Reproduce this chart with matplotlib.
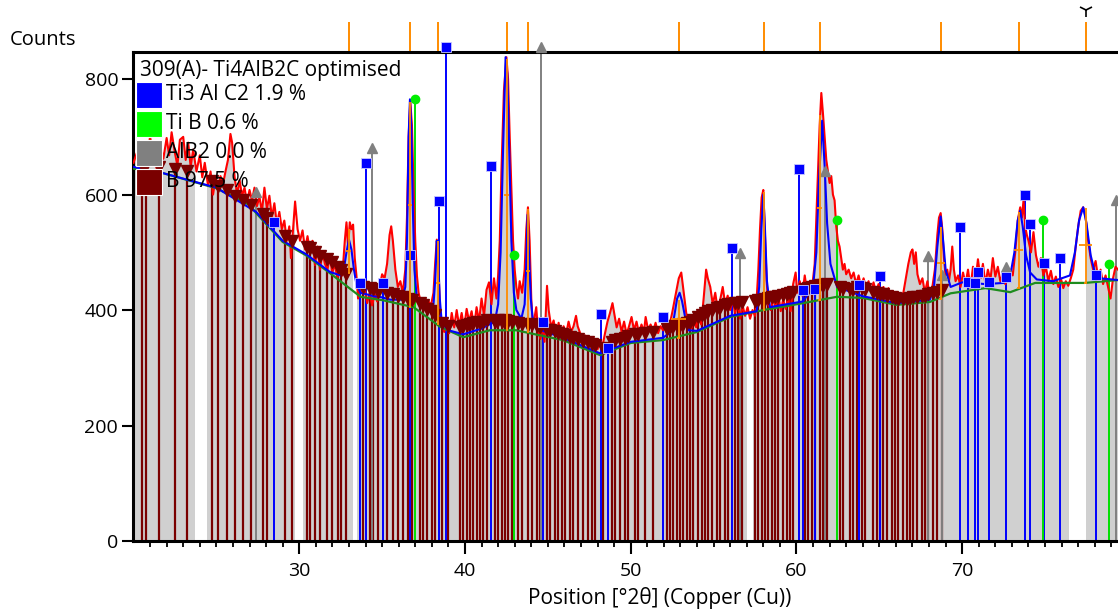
import numpy as np
import matplotlib.pyplot as plt
from matplotlib.patches import Rectangle
from matplotlib.transforms import blended_transform_factory

plt.rcParams['font.family'] = ['Open Sans', 'DejaVu Sans']

# observed pattern (2theta, counts)
observed = [
    (20.0, 655), (20.2, 672), (20.4, 648), (20.6, 690), (20.8, 660), (21.0, 700), (21.2, 668),
    (21.4, 645), (21.6, 690), (21.8, 662), (22.0, 698), (22.15, 668), (22.3, 708), (22.5, 672),
    (22.65, 650), (22.8, 695), (23.0, 700), (23.15, 660), (23.3, 690), (23.45, 648), (23.6, 678),
    (23.8, 640), (24.0, 668), (24.15, 630), (24.3, 655), (24.5, 615), (24.65, 640), (24.8, 600),
    (24.95, 628), (25.1, 612), (25.25, 632), (25.4, 618), (25.55, 640), (25.7, 660), (25.85, 705),
    (25.95, 690), (26.1, 630), (26.25, 600), (26.4, 625), (26.55, 598), (26.7, 612), (26.85, 585),
    (27.0, 608), (27.15, 590), (27.3, 612), (27.45, 580), (27.6, 596), (27.75, 570), (27.9, 612),
    (28.05, 575), (28.2, 598), (28.35, 560), (28.5, 585), (28.65, 548), (28.8, 570), (28.95, 540),
    (29.1, 555), (29.25, 520), (29.4, 545), (29.5, 490), (29.6, 530), (29.75, 588), (29.9, 540),
    (30.05, 520), (30.2, 538), (30.35, 505), (30.5, 528), (30.65, 500), (30.8, 520), (30.95, 478),
    (31.1, 510), (31.25, 470), (31.4, 500), (31.55, 480), (31.7, 470), (31.85, 492), (32.0, 465),
    (32.15, 480), (32.3, 455), (32.45, 470), (32.6, 460), (32.75, 520), (32.85, 552), (32.95, 510),
    (33.05, 552), (33.15, 540), (33.25, 548), (33.35, 490), (33.45, 460), (33.55, 420), (33.65, 445),
    (33.8, 430), (33.95, 438), (34.1, 412), (34.25, 430), (34.4, 408), (34.55, 428), (34.7, 415),
    (34.85, 440), (35.0, 462), (35.15, 455), (35.3, 480), (35.45, 530), (35.55, 545), (35.65, 520),
    (35.8, 470), (35.95, 440), (36.1, 450), (36.25, 430), (36.4, 470), (36.5, 560), (36.6, 700),
    (36.7, 762), (36.8, 720), (36.9, 610), (37.0, 520), (37.1, 460), (37.2, 430), (37.35, 412),
    (37.5, 418), (37.65, 405), (37.8, 415), (37.95, 408), (38.1, 430), (38.2, 480), (38.3, 522),
    (38.4, 470), (38.5, 400), (38.6, 375), (38.75, 362), (38.9, 380), (39.05, 360), (39.2, 395),
    (39.35, 370), (39.5, 400), (39.65, 372), (39.8, 395), (39.95, 368), (40.1, 402), (40.25, 380),
    (40.4, 398), (40.55, 370), (40.7, 405), (40.85, 380), (41.0, 420), (41.15, 390), (41.3, 435),
    (41.45, 448), (41.6, 410), (41.75, 455), (41.9, 420), (42.0, 460), (42.1, 520), (42.2, 640),
    (42.35, 780), (42.5, 838), (42.6, 800), (42.7, 700), (42.8, 610), (42.9, 520), (43.0, 470),
    (43.1, 440), (43.2, 420), (43.3, 450), (43.45, 430), (43.6, 470), (43.7, 540), (43.8, 578),
    (43.9, 520), (44.0, 420), (44.1, 370), (44.2, 388), (44.3, 405), (44.4, 365), (44.55, 350),
    (44.7, 372), (44.8, 345), (44.95, 442), (45.05, 400), (45.2, 370), (45.35, 382), (45.5, 355),
    (45.65, 378), (45.8, 350), (45.95, 372), (46.1, 358), (46.25, 380), (46.4, 362), (46.55, 372),
    (46.7, 390), (46.8, 372), (46.95, 360), (47.1, 348), (47.25, 356), (47.4, 338), (47.55, 352),
    (47.7, 335), (47.85, 345), (48.0, 332), (48.15, 348), (48.3, 338), (48.45, 360), (48.6, 380),
    (48.75, 395), (48.9, 412), (49.0, 395), (49.15, 370), (49.3, 385), (49.45, 362), (49.6, 380),
    (49.75, 358), (49.9, 372), (50.05, 388), (50.2, 365), (50.35, 380), (50.5, 360), (50.65, 375),
    (50.8, 362), (50.9, 388), (51.05, 365), (51.2, 375), (51.35, 362), (51.5, 378), (51.65, 360),
    (51.8, 372), (51.95, 365), (52.1, 380), (52.3, 368), (52.5, 395), (52.7, 425), (52.9, 455),
    (53.05, 465), (53.2, 430), (53.35, 395), (53.5, 378), (53.65, 368), (53.8, 382), (53.95, 370),
    (54.1, 395), (54.25, 375), (54.4, 420), (54.55, 470), (54.65, 455), (54.8, 440), (54.95, 410),
    (55.1, 430), (55.25, 400), (55.4, 418), (55.55, 440), (55.7, 410), (55.85, 425), (56.0, 400),
    (56.15, 418), (56.3, 395), (56.45, 412), (56.6, 385), (56.75, 408), (56.9, 390), (57.05, 405),
    (57.2, 385), (57.35, 400), (57.5, 390), (57.6, 420), (57.7, 470), (57.8, 540), (57.9, 595),
    (58.0, 608), (58.1, 530), (58.2, 450), (58.3, 410), (58.45, 400), (58.6, 420), (58.75, 405),
    (58.9, 430), (59.05, 398), (59.2, 418), (59.35, 402), (59.5, 420), (59.65, 398), (59.8, 445),
    (59.95, 465), (60.05, 430), (60.2, 450), (60.35, 425), (60.5, 460), (60.65, 430), (60.8, 448),
    (60.95, 440), (61.1, 480), (61.25, 600), (61.4, 720), (61.5, 776), (61.6, 740), (61.7, 700),
    (61.8, 660), (61.9, 640), (62.0, 620), (62.1, 632), (62.2, 600), (62.3, 590), (62.4, 545),
    (62.5, 520), (62.6, 510), (62.7, 490), (62.8, 470), (62.9, 480), (63.0, 462), (63.15, 470),
    (63.3, 455), (63.45, 465), (63.6, 445), (63.75, 460), (63.9, 440), (64.05, 455), (64.2, 438),
    (64.35, 450), (64.5, 432), (64.65, 448), (64.8, 430), (64.95, 445), (65.1, 428), (65.25, 440),
    (65.4, 425), (65.55, 438), (65.7, 420), (65.85, 432), (66.0, 418), (66.15, 425), (66.3, 418),
    (66.45, 430), (66.6, 455), (66.75, 480), (66.9, 500), (67.0, 505), (67.1, 480), (67.2, 500),
    (67.3, 462), (67.45, 445), (67.6, 455), (67.75, 430), (67.9, 450), (68.05, 420), (68.2, 440),
    (68.35, 470), (68.5, 530), (68.6, 560), (68.7, 568), (68.8, 540), (68.9, 490), (69.0, 460),
    (69.1, 470), (69.2, 450), (69.3, 470), (69.4, 510), (69.5, 470), (69.6, 450), (69.75, 460),
    (69.9, 440), (70.05, 465), (70.2, 445), (70.35, 470), (70.5, 438), (70.65, 475), (70.8, 450),
    (70.95, 488), (71.1, 455), (71.25, 480), (71.4, 445), (71.55, 470), (71.7, 452), (71.85, 490),
    (72.0, 458), (72.15, 475), (72.3, 450), (72.45, 462), (72.6, 445), (72.75, 455), (72.9, 470),
    (73.05, 460), (73.2, 500), (73.35, 555), (73.5, 578), (73.6, 560), (73.7, 590), (73.8, 545),
    (73.9, 530), (74.0, 520), (74.15, 500), (74.3, 535), (74.45, 495), (74.6, 475), (74.75, 490),
    (74.9, 460), (75.05, 475), (75.2, 450), (75.35, 468), (75.5, 445), (75.65, 458), (75.8, 440),
    (75.95, 455), (76.1, 438), (76.25, 450), (76.4, 442), (76.55, 455), (76.7, 470), (76.85, 510),
    (77.0, 545), (77.15, 572), (77.3, 578), (77.45, 560), (77.6, 520), (77.75, 490), (77.9, 470),
    (78.05, 485), (78.2, 455), (78.35, 470), (78.5, 445), (78.65, 460), (78.8, 440), (78.95, 420),
    (79.1, 455), (79.25, 475), (79.4, 470),
]

# calculated profile
calculated = [
    (20.0, 648), (21.8, 637), (25.0, 612), (27.4, 570), (29.0, 520), (30.4, 497), (31.85, 466),
    (32.5, 460), (32.7, 472), (32.85, 500), (33.0, 522), (33.15, 505), (33.3, 470), (33.45, 445),
    (33.7, 430), (34.5, 424), (35.0, 422), (35.5, 418), (36.2, 418), (36.4, 440), (36.5, 520),
    (36.6, 700), (36.68, 765), (36.76, 720), (36.85, 580), (36.95, 470), (37.1, 418), (37.8, 400),
    (38.1, 410), (38.2, 450), (38.3, 520), (38.38, 490), (38.48, 420), (38.6, 378), (39.0, 365),
    (39.9, 358), (41.0, 368), (41.8, 380), (42.0, 410), (42.15, 500), (42.3, 680), (42.45, 838),
    (42.55, 810), (42.65, 700), (42.8, 520), (42.95, 430), (43.1, 400), (43.4, 385), (43.6, 410),
    (43.7, 480), (43.78, 565), (43.86, 500), (43.97, 420), (44.1, 380), (44.6, 365), (45.9, 352),
    (48.15, 325), (50.0, 345), (51.95, 352), (52.4, 362), (52.6, 385), (52.8, 420), (52.95, 430),
    (53.1, 415), (53.3, 385), (53.5, 365), (54.0, 364), (56.0, 390), (57.6, 398), (57.75, 440),
    (57.88, 540), (58.0, 600), (58.1, 540), (58.22, 450), (58.4, 405), (60.4, 415), (61.0, 440),
    (61.2, 500), (61.35, 620), (61.55, 728), (61.7, 650), (61.85, 550), (62.05, 480), (62.45, 440),
    (64.0, 424), (66.05, 412), (68.05, 418), (68.3, 440), (68.5, 510), (68.7, 562), (68.85, 520),
    (69.0, 470), (69.3, 440), (70.0, 448), (71.4, 445), (72.5, 447), (72.9, 460), (73.15, 500),
    (73.35, 555), (73.5, 572), (73.65, 545), (73.85, 495), (74.1, 465), (74.5, 453), (75.5, 450),
    (76.5, 460), (76.8, 500), (77.05, 555), (77.3, 578), (77.5, 550), (77.75, 495), (78.0, 465),
    (78.3, 455), (79.4, 452),
]

# background
background = [
    (20.0, 645), (21.8, 637), (25.0, 611), (27.0, 582), (27.4, 568), (29.0, 518), (30.4, 495),
    (31.85, 464), (33.7, 423), (35.05, 417), (36.9, 405), (38.5, 371), (39.9, 353), (41.5, 365),
    (43.1, 365), (43.9, 360), (45.9, 348), (48.15, 322), (50.0, 343), (51.95, 348), (54.0, 362),
    (56.0, 388), (58.0, 400), (60.4, 412), (62.45, 423), (64.0, 421), (66.05, 409), (68.05, 414),
    (69.3, 429), (71.4, 438), (72.9, 431), (74.4, 447), (77.4, 447), (79.4, 452),
]

# white gaps in the grey fill
fill_gaps = [(23.7, 24.45), (29.75, 30.25), (33.25, 33.5), (57.0, 57.4), (76.45, 77.45)]

# phase reflections: B (97.5 %)
b_pos = [20.5, 20.75, 21.55, 22.5, 23.25, 24.75, 25.08, 25.65, 26.15, 26.6, 27.12, 27.8, 28.05,
         29.15, 29.55, 30.45, 30.65, 30.95, 31.25, 31.65, 31.95, 32.36, 32.5, 32.82, 33.87, 34.27,
         34.47, 34.77, 35.27, 35.68, 35.98, 36.28, 36.58, 36.78, 37.29, 37.49, 37.69, 37.99, 38.19,
         38.59, 38.99, 39.7, 39.9, 40.1, 40.3, 40.5, 40.71, 40.9, 41.1, 41.31, 41.81, 42.01, 42.21,
         42.41, 42.61, 42.82, 43.22, 43.42, 43.82, 44.02, 44.32, 44.52, 44.93, 45.13, 45.43, 45.63,
         45.83, 46.03, 46.34, 46.54, 46.84, 47.14, 47.44, 47.64, 47.84, 48.35, 48.85, 49.05, 49.35,
         49.65, 49.85, 50.26, 50.46, 50.86, 51.36, 52.17, 52.37, 52.57, 52.77, 52.97, 53.17, 53.37,
         53.58, 53.78, 54.08, 54.28, 54.48, 54.68, 54.88, 55.18, 55.38, 55.69, 55.89, 56.29, 56.49,
         56.69, 57.5, 57.7, 57.9, 58.1, 58.3, 58.5, 58.7, 58.9, 59.2, 59.41, 59.61, 59.81, 60.51,
         60.71, 60.92, 61.12, 61.42, 61.62, 61.82, 62.62, 62.82, 63.23, 63.43, 63.63, 63.93, 64.13,
         64.63, 64.84, 65.04, 65.24, 65.44, 65.74, 65.94, 66.14, 66.44, 66.65, 66.85, 67.05, 67.25,
         67.55, 67.75, 67.95, 68.25, 68.46, 68.76]
b_top = [652, 652, 648, 644, 641, 623, 615, 608, 597, 590, 582, 566, 560,
         528, 520, 510, 507, 500, 494, 488, 483, 474, 470, 462, 440, 438,
         436, 432, 430, 427, 425, 422, 420, 418, 412, 408, 402, 398, 392,
         378, 372, 370, 372, 374, 376, 378, 380, 378, 380, 382, 380, 382, 380,
         383, 381, 380, 378, 376, 374, 375, 372, 370, 366, 365, 363, 360,
         358, 356, 354, 352, 350, 347, 344, 342, 340, 335, 345, 348, 350,
         352, 355, 358, 358, 360, 362, 368, 370, 372, 372, 374, 376, 378,
         380, 383, 388, 392, 395, 398, 400, 403, 405, 408, 410, 412, 413,
         414, 415, 417, 418, 420, 421, 422, 423, 424, 426, 428, 430, 432, 436,
         438, 440, 442, 443, 444, 445, 440, 438, 436, 437, 440, 438, 436,
         432, 430, 428, 427, 425, 423, 421, 420, 420, 420, 421, 422, 423,
         424, 425, 427, 430, 432, 435]

# Ti3 Al C2
ti3alc2_pos = [28.5, 33.66, 34.03, 35.04, 36.69, 38.41, 38.88, 41.57, 44.72, 48.18, 48.6, 51.96,
               56.12, 60.18, 60.41, 61.12, 63.75, 65.04, 69.86, 70.37, 70.78, 70.98, 71.62, 72.66,
               73.78, 74.08, 74.93, 75.9, 78.1]
ti3alc2_top = [552, 447, 655, 447, 495, 589, 856, 649, 380, 394, 335, 388,
               507, 645, 435, 437, 443, 459, 544, 449, 447, 466, 449, 457,
               600, 549, 481, 490, 460]

# Ti B
tib_pos = [36.98, 42.95, 62.45, 74.9, 78.86]
tib_top = [765, 495, 556, 556, 480]

# Al B2
alb2_pos = [27.37, 34.42, 44.58, 56.58, 61.74, 67.93, 68.8, 72.66, 79.3]
alb2_top = [604, 680, 856, 499, 640, 494, 461, 475, 590]

# identified peaks: position, base, top, FWHM
peak_pos = [33.0, 36.68, 38.37, 42.53, 43.8, 52.9, 58.04, 61.4, 68.7, 73.4, 77.45]
peak_base = [465, 405, 375, 365, 362, 352, 400, 417, 420, 438, 447]
peak_top = [540, 760, 520, 835, 575, 417, 605, 738, 544, 570, 577]
peak_fwhm = [0.3, 0.25, 0.2, 0.3, 0.2, 0.9, 0.15, 0.3, 0.5, 0.55, 0.8]

legend_title = '309(A)- Ti4AlB2C optimised'
legend_labels = ['Ti3 Al C2 1.9 %', 'Ti B 0.6 %', 'AlB2 0.0 %', 'B 97.5 %']
legend_colors = ['#0000ff', '#00ff00', '#808080', '#7a0000']

obs = np.array(observed)
calc = np.array(calculated)
bg = np.array(background)

fig = plt.figure(figsize=(11.18, 6.10), dpi=100)
ax = fig.add_axes([0.1194, 0.1131, 0.8806, 0.8017])

# grey area under observed data, with white gaps
ax.fill_between(obs[:, 0], 0, obs[:, 1], color='#d0d0d0', lw=0, zorder=1)
for a, b in fill_gaps:
    ax.axvspan(a, b, color='white', lw=0, zorder=1.2)

# reference sticks
ax.vlines(b_pos, 0, b_top, color='#7a0000', lw=1.6, zorder=2)
ax.vlines(alb2_pos, 0, alb2_top, color='#808080', lw=1.4, zorder=2.2, clip_on=False)
ax.vlines(ti3alc2_pos, 0, ti3alc2_top, color='#0000ff', lw=1.4, zorder=2.3, clip_on=False)
ax.vlines(tib_pos, 0, tib_top, color='#00e000', lw=1.4, zorder=2.3)

ax.plot(obs[:, 0], obs[:, 1], color='#ff0000', lw=1.5, zorder=3)
ax.plot(bg[:, 0], bg[:, 1], color='#1e8c1e', lw=1.6, zorder=3.5)
ax.plot(calc[:, 0], calc[:, 1], color='#0000ff', lw=1.5, zorder=4)

ax.plot(b_pos, b_top, 'v', color='#7a0000', ms=8, zorder=5)
ax.plot(alb2_pos, alb2_top, '^', color='#808080', ms=7, zorder=5, clip_on=False)
ax.plot(ti3alc2_pos, ti3alc2_top, 's', color='#0000ff', mec='#c8c8ff', mew=0.6, ms=7,
        zorder=5, clip_on=False)
ax.plot(tib_pos, tib_top, 'o', color='#00ee00', ms=6, zorder=5)

# peak markers (orange)
for p, lo, hi, w in zip(peak_pos, peak_base, peak_top, peak_fwhm):
    mid = (lo + hi) / 2
    ax.vlines(p, lo, hi, color='#ff8c00', lw=1.3, zorder=6)
    ax.hlines(mid, p - w / 2, p + w / 2, color='#ff8c00', lw=1.3, zorder=6)
    ax.hlines(lo, p - 0.08, p + 0.08, color='#ff8c00', lw=1.3, zorder=6)

trans = blended_transform_factory(ax.transData, ax.transAxes)
ax.vlines(peak_pos, 1.0, 1.061, color='#ff8c00', lw=1.4, transform=trans, clip_on=False)
ax.plot([peak_pos[-1]], [1.085], marker='1', color='black', ms=10, mew=1.2,
        transform=trans, clip_on=False)

ax.set_xlim(20, 79.4)
ax.set_ylim(0, 847)
ax.set_xticks([30, 40, 50, 60, 70])
ax.set_xticks([v for v in range(21, 80) if v % 10], minor=True)
ax.set_yticks([0, 200, 400, 600, 800])
ax.tick_params(axis='x', which='major', length=9, width=1.5, pad=6, labelsize=14)
ax.tick_params(axis='x', which='minor', length=4, width=1.3)
ax.tick_params(axis='y', length=8, width=1.5, pad=3, labelsize=14)
for s in ['left', 'bottom', 'top']:
    ax.spines[s].set_linewidth(2.2)
ax.spines['right'].set_visible(False)

ax.set_xlabel('Position [°2θ] (Copper (Cu))', fontsize=15, va='center')
ax.xaxis.set_label_coords(0.534, -0.117)
fig.text(0.009, 0.934, 'Counts', fontsize=14.5, va='center', ha='left')

# legend drawn by hand, no frame
ax.text(0.0066, 0.963, legend_title, transform=ax.transAxes, fontsize=15, va='center',
        ha='left', zorder=8)
for i, (lab, col) in enumerate(zip(legend_labels, legend_colors)):
    y0 = 0.8855 - i * 0.0593
    ax.add_patch(Rectangle((0.0025, y0), 0.0264, 0.0532, transform=ax.transAxes,
                           facecolor=col, edgecolor='white', lw=0.8, zorder=8))
    ax.text(0.033, y0 + 0.0266, lab, transform=ax.transAxes, fontsize=15, va='center',
            ha='left', zorder=8)

fig.savefig('out.png', dpi=100)
